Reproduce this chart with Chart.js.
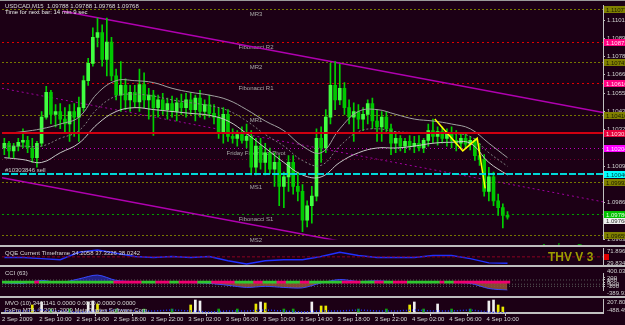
<!DOCTYPE html>
<html>
<head>
<meta charset="utf-8">
<script src="https://cdn.jsdelivr.net/npm/chart.js@4.4.1/dist/chart.umd.min.js"></script>
<style>
  body { margin: 0; background: #1c0015; }
  #wrap { position: relative; width: 625px; height: 325px; overflow: hidden; background: #1c0015; }
  canvas { position: absolute; left: 0; }
  .sep { position: absolute; left: 0; width: 625px; height: 2px; background: #bdbdbd; }
</style>
</head>
<body>
<div id="wrap">
  <canvas id="main" width="625" height="245" style="top:0"></canvas>
  <div class="sep" style="top:0;height:1px;background:#9a9a9a"></div>
  <div class="sep" style="top:245px"></div>
  <canvas id="qqe" width="625" height="17" style="top:248px"></canvas>
  <div class="sep" style="top:265px"></div>
  <canvas id="cci" width="625" height="28" style="top:268px"></canvas>
  <div class="sep" style="top:296px"></div>
  <canvas id="mvo" width="625" height="26" style="top:299px"></canvas>
</div>
<script>
// USDCAD M15, 2-4 Sep 2009 (30 min candles)
const opens = [
  1.10204,1.10234,1.10186,1.10216,1.10240,1.10252,1.10204,1.10143,1.10234,1.10398,
  1.10555,1.10416,1.10434,1.10386,1.10355,1.10434,1.10398,1.10458,1.10628,1.10737,
  1.10901,1.10931,1.10762,1.10871,1.10658,1.10537,1.10598,1.10507,1.10555,1.10495,
  1.10604,1.10507,1.10537,1.10458,1.10507,1.10446,1.10483,1.10434,1.10489,1.10458,
  1.10507,1.10446,1.10519,1.10434,1.10477,1.10422,1.10398,1.10295,1.10416,1.10277,
  1.10265,1.10289,1.10252,1.10277,1.10083,1.10216,1.10113,1.10174,1.10071,1.10113,
  1.09962,1.10022,1.10113,1.09962,1.09931,1.09749,1.09840,1.09901,1.10265,1.10204,
  1.10398,1.10598,1.10507,1.10580,1.10458,1.10398,1.10434,1.10386,1.10416,1.10483,
  1.10374,1.10337,1.10398,1.10325,1.10234,1.10265,1.10216,1.10246,1.10216,1.10234,
  1.10204,1.10252,1.10313,1.10277,1.10307,1.10265,1.10295,1.10252,1.10234,1.10265,
  1.10228,1.10252,1.10156,1.10131,1.09931,1.10022,1.09871,1.09828,1.09780
];
const highs = [
  1.10265,1.10246,1.10234,1.10265,1.10325,1.10277,1.10265,1.10246,1.10434,1.10592,
  1.10568,1.10477,1.10483,1.10458,1.10477,1.10483,1.10525,1.10658,1.10768,1.10961,
  1.11022,1.10980,1.11022,1.10901,1.10701,1.10749,1.10640,1.10598,1.10598,1.10701,
  1.10677,1.10580,1.10568,1.10537,1.10549,1.10519,1.10531,1.10519,1.10543,1.10549,
  1.10555,1.10537,1.10568,1.10507,1.10537,1.10477,1.10458,1.10458,1.10446,1.10325,
  1.10313,1.10337,1.10355,1.10313,1.10265,1.10265,1.10234,1.10204,1.10174,1.10156,
  1.10052,1.10156,1.10156,1.10052,1.09974,1.09871,1.09962,1.10325,1.10337,1.10446,
  1.10737,1.10749,1.10731,1.10616,1.10507,1.10489,1.10477,1.10458,1.10507,1.10519,
  1.10446,1.10434,1.10434,1.10355,1.10307,1.10283,1.10265,1.10283,1.10277,1.10283,
  1.10265,1.10355,1.10386,1.10337,1.10337,1.10325,1.10337,1.10313,1.10295,1.10295,
  1.10277,1.10265,1.10234,1.10162,1.10083,1.10052,1.09913,1.09853,1.09804
];
const lows = [
  1.10162,1.10143,1.10143,1.10186,1.10204,1.10174,1.10113,1.10083,1.10216,1.10386,
  1.10355,1.10337,1.10325,1.10295,1.10246,1.10277,1.10246,1.10434,1.10598,1.10719,
  1.10840,1.10719,1.10658,1.10628,1.10507,1.10434,1.10446,1.10434,1.10458,1.10434,
  1.10458,1.10386,1.10283,1.10398,1.10416,1.10386,1.10398,1.10374,1.10416,1.10398,
  1.10416,1.10374,1.10398,1.10386,1.10398,1.10355,1.10265,1.10234,1.10246,1.10234,
  1.10216,1.10234,1.10204,1.10034,1.10034,1.10071,1.10034,1.10040,1.09962,1.09840,
  1.09828,1.09931,1.09913,1.09871,1.09677,1.09707,1.09731,1.09871,1.10113,1.10174,
  1.10355,1.10446,1.10477,1.10416,1.10355,1.10246,1.10325,1.10313,1.10355,1.10325,
  1.10246,1.10246,1.10295,1.10162,1.10174,1.10186,1.10174,1.10192,1.10174,1.10186,
  1.10174,1.10216,1.10234,1.10222,1.10234,1.10216,1.10204,1.10186,1.10204,1.10204,
  1.10192,1.10125,1.10095,1.09901,1.09871,1.09840,1.09780,1.09701,1.09756
];
const closes = [
  1.10234,1.10186,1.10216,1.10240,1.10252,1.10204,1.10143,1.10234,1.10398,1.10555,
  1.10416,1.10434,1.10386,1.10355,1.10434,1.10398,1.10458,1.10628,1.10737,1.10901,
  1.10931,1.10762,1.10871,1.10658,1.10537,1.10598,1.10507,1.10555,1.10495,1.10604,
  1.10507,1.10537,1.10458,1.10507,1.10446,1.10483,1.10434,1.10489,1.10458,1.10507,
  1.10446,1.10519,1.10434,1.10477,1.10422,1.10398,1.10295,1.10416,1.10277,1.10265,
  1.10289,1.10252,1.10277,1.10083,1.10216,1.10113,1.10174,1.10071,1.10113,1.09962,
  1.10022,1.10113,1.09962,1.09931,1.09749,1.09840,1.09901,1.10265,1.10204,1.10398,
  1.10598,1.10507,1.10580,1.10458,1.10398,1.10434,1.10386,1.10416,1.10483,1.10374,
  1.10337,1.10398,1.10325,1.10234,1.10265,1.10216,1.10246,1.10216,1.10234,1.10204,
  1.10252,1.10313,1.10277,1.10307,1.10265,1.10295,1.10252,1.10234,1.10265,1.10228,
  1.10252,1.10156,1.10131,1.09931,1.10022,1.09871,1.09828,1.09780,1.09768
];

// moving average envelope, one reading every 2 hours
const maSlots = [0,4,8,12,16,20,24,28,32,36,40,44,48,52,56,60,64,68,72,76,80,84,88,92,96,100,104,108];
const maUpper = [1.10295,1.10307,1.10325,1.10355,1.10398,1.10549,1.10628,1.10628,1.10616,1.10580,1.10555,1.10537,1.10507,1.10446,
                 1.10374,1.10313,1.10216,1.10174,1.10325,1.10434,1.10446,1.10416,1.10386,1.10374,1.10355,1.10325,1.10234,1.10143];
const maMid   = [1.10216,1.10216,1.10216,1.10265,1.10313,1.10452,1.10531,1.10543,1.10531,1.10507,1.10489,1.10471,1.10440,1.10374,
                 1.10289,1.10216,1.10125,1.10095,1.10216,1.10307,1.10325,1.10307,1.10301,1.10301,1.10295,1.10277,1.10174,1.10089];
const maLower = [1.10143,1.10131,1.10113,1.10174,1.10234,1.10355,1.10434,1.10458,1.10446,1.10434,1.10422,1.10410,1.10374,1.10295,
                 1.10204,1.10113,1.10034,1.10022,1.10113,1.10174,1.10204,1.10204,1.10216,1.10234,1.10240,1.10234,1.10113,1.10034];

// horizontal levels
const levelNames  = ['MR3','Fibonacci R2','MR2','Fibonacci R1','MR1','','Friday Fibonacci Pivot','','','MS1','Fibonacci S1','MS2'];
const levelPrices = [1.11077,1.10871,1.10743,1.10616,1.10410,1.10301,1.10204,1.10137,1.10040,1.09992,1.09786,1.09659];
const levelKinds  = ['mr','fib','mr','fib','mr','red','piv','dark','order','mr','fibS','mr'];
const priceTicks  = [1.11010,1.10895,1.10780,1.10665,1.10550,1.10435,1.10320,1.10205,1.10090,1.09975,1.09860,1.09745,1.09630];

// channel lines and zigzag
const chanUpperX = [12.6, 128.5], chanUpperY = [1.11065, 1.10428];
const chanLowerX = [-0.5, 128.5], chanLowerY = [1.10016, 1.09307];
const chanMidX   = [-0.5, 128.5], chanMidY   = [1.10580, 1.09865];
const zigSlots  = [92.4, 98.4, 101.5, 103.2];
const zigPrices = [1.10386, 1.10186, 1.10265, 1.09949];

// QQE
const qqeVals = [48.24,48.24,45.61,42.98,61.38,66.64,58.75,50.87,48.24,50.87,48.24,50.87,40.35,32.46,
                 40.35,42.98,42.98,50.87,61.38,53.5,48.24,48.24,48.24,53.5,53.5,45.61,35.09,34.21];

// CCI
const cciVals = [-40,-60,80,-20,150,330,80,20,-10,10,-20,-60,-150,-250,-200,-250,-270,-40,120,30,60,10,-20,0,-20,-60,-300,-380];
const cciRuns = [7,1,16,6,3,3,2,4,3,5,4,2,3,2,3,2,7,4,3,2,2,3,7,1,2,12]; // alternating green / pink, green first

// MVO
const mvoSlots = [6,8,18,19,20,40,41,42,54,55,56,66,68,69,87,88,93,104,105,106,107,10,14,24,30,36,46,50,60,62,76,82,90,96,100];
const mvoVals  = [-90,59,59,108,-41,-90,158,108,-41,59,9,59,-140,-140,-90,59,-41,108,158,-90,-190,
                  -290,-290,-290,-290,-290,-290,-290,-290,-290,-290,-290,-290,-290,-290];
const mvoKinds = ['y','w','w','w','y','y','w','w','y','w','y','w','y','y','y','w','w','w','w','y','y',
                  'g','g','g','g','g','g','g','g','g','g','g','g','g','g'];
const mvoLine  = [-389,-389,-339,-389,-438,-389,-339,-389,-389,-339,-389,-438,-389,-389,-339,-389,-438,-389,-389,-339,-389,-389,-339,-389,-389,-339,-438,-488];

const timeLabels = ['2 Sep 2009','2 Sep 10:00','2 Sep 14:00','2 Sep 18:00','2 Sep 22:00','3 Sep 02:00','3 Sep 06:00',
                    '3 Sep 10:00','3 Sep 14:00','3 Sep 18:00','3 Sep 22:00','4 Sep 02:00','4 Sep 06:00','4 Sep 10:00'];
const timeSlots  = [-0.5,7.5,15.5,23.5,31.5,39.5,47.5,55.5,63.5,71.5,79.5,87.5,95.5,103.5];

const SLOTS = 129;
const FONT = '"Liberation Sans", Arial, sans-serif';
Chart.defaults.font.family = FONT;
Chart.defaults.font.size = 6;
Chart.defaults.color = '#d0d0d0';
Chart.defaults.animation = false;
Chart.defaults.plugins.legend.display = false;
Chart.defaults.plugins.tooltip.enabled = false;

const pts = (xs, ys) => xs.map((x, i) => ({x: x, y: ys[i]}));
const xHidden = {type: 'linear', min: -0.5, max: SLOTS - 0.5, offset: false, display: false};

function rightAxis(min, max, ticks, fmt) {
  return {
    position: 'right', min: min, max: max,
    afterFit: s => { s.width = 22; },
    afterBuildTicks: s => { s.ticks = ticks.map(v => ({value: v})); },
    grid: {display: true, drawOnChartArea: false, drawTicks: true, tickLength: 2, color: '#c0c0c0'},
    border: {display: true, color: '#c0c0c0'},
    ticks: {display: ticks.length > 0, autoSkip: false, padding: 2, color: '#d0d0d0', font: {size: 6}, callback: fmt}
  };
}

function txt(ctx, s, x, y, color, font, align) {
  ctx.font = font || '6px ' + FONT;
  ctx.fillStyle = color;
  ctx.textAlign = align || 'left';
  ctx.textBaseline = 'alphabetic';
  ctx.fillText(s, x, y);
}

const levelStyle = {
  mr:    {color: '#767600', dash: [2, 2], width: 1, tag: '#808000', tagText: '#1a1a00'},
  fib:   {color: '#e00000', dash: [2, 3], width: 1, tag: '#ff0080', tagText: '#ffe0f0'},
  red:   {color: '#d00010', dash: [],     width: 2, tag: '#e8003c', tagText: '#ffe0e0'},
  piv:   {color: '#c000c0', dash: [1, 3], width: 1, tag: '#ff00ff', tagText: '#ffe0ff'},
  dark:  {color: '#700030', dash: [1, 3], width: 1, tag: null},
  order: {color: '#00d8d8', dash: [7, 2], width: 2, tag: '#00ffff', tagText: '#004040'},
  fibS:  {color: '#00a000', dash: [2, 3], width: 1, tag: '#00c000', tagText: '#e0ffe0'}
};

const levelsBehind = {
  id: 'levelsBehind',
  beforeDatasetsDraw(chart) {
    const {ctx, chartArea: a, scales: {y}} = chart;
    ctx.save();
    levelPrices.forEach((p, i) => {
      const st = levelStyle[levelKinds[i]];
      const py = Math.round(y.getPixelForValue(p)) + 0.5;
      if (levelKinds[i] !== 'red' && levelKinds[i] !== 'order') {
        ctx.strokeStyle = st.color; ctx.lineWidth = st.width; ctx.setLineDash(st.dash);
        ctx.beginPath(); ctx.moveTo(a.left, py); ctx.lineTo(a.right, py); ctx.stroke();
      }
      if (levelNames[i]) txt(ctx, levelNames[i], 256, py + 6, '#a8a8a8', null, 'center');
    });
    ctx.restore();
  }
};

const levelsFront = {
  id: 'levelsFront',
  afterDatasetsDraw(chart) {
    const {ctx, chartArea: a, scales: {y}} = chart;
    ctx.save();
    levelPrices.forEach((p, i) => {
      const k = levelKinds[i];
      if (k !== 'red' && k !== 'order') return;
      const st = levelStyle[k];
      const py = Math.round(y.getPixelForValue(p));
      ctx.strokeStyle = st.color; ctx.lineWidth = st.width; ctx.setLineDash(st.dash);
      ctx.beginPath(); ctx.moveTo(a.left, py); ctx.lineTo(a.right, py); ctx.stroke();
      if (k === 'order') txt(ctx, '#10303846 sell', 5, py - 2, '#c8c8c8');
    });
    ctx.restore();
  },
  afterDraw(chart) {
    const {ctx, chartArea: a, scales: {y}} = chart;
    ctx.save();
    levelPrices.forEach((p, i) => {
      const st = levelStyle[levelKinds[i]];
      if (!st.tag) return;
      const py = Math.round(y.getPixelForValue(p));
      ctx.fillStyle = st.tag;
      ctx.fillRect(a.right + 1, py - 3, 22, 7);
      txt(ctx, p.toFixed(5), a.right + 3, py + 3, st.tagText);
    });
    const last = closes[closes.length - 1];
    const cy = Math.round(y.getPixelForValue(last));
    ctx.fillStyle = '#f0f0f0';
    ctx.fillRect(a.right + 1, cy + 1, 22, 6);
    txt(ctx, last.toFixed(5), a.right + 3, cy + 6, '#303030');
    txt(ctx, 'USDCAD,M15  1.09788 1.09788 1.09768 1.09768', 5, 8, '#d8d8d8');
    txt(ctx, 'Time for next bar: 14 min 9 sec', 5, 14, '#e8e8e8');
    txt(ctx, 'Analyze Day', 540, 250, '#00a000', 'italic bold 9px ' + FONT);
    ctx.restore();
  }
};

const slots = opens.map((_, i) => i);
const bull = slots.map(i => closes[i] >= opens[i]);

new Chart(document.getElementById('main'), {
  type: 'bar',
  data: {
    datasets: [
      {type: 'line', data: pts(chanMidX, chanMidY), borderColor: '#a000a0',
       borderWidth: 1, borderDash: [2, 3], pointRadius: 0, order: 6},
      {type: 'line', data: pts(chanUpperX, chanUpperY), borderColor: '#b000b0', borderWidth: 1.5, pointRadius: 0, order: 5},
      {type: 'line', data: pts(chanLowerX, chanLowerY), borderColor: '#b000b0', borderWidth: 1.5, pointRadius: 0, order: 5},
      {type: 'bar', data: slots.map(i => ({x: i, y: [lows[i], highs[i]]})), backgroundColor: '#00d000',
       barThickness: 1, grouped: false, order: 4},
      {type: 'bar', data: slots.map(i => ({x: i, y: [opens[i], closes[i]]})),
       backgroundColor: slots.map(i => bull[i] ? '#40ff40' : '#00c800'), borderWidth: 0,
       barThickness: 3, minBarLength: 1, grouped: false, order: 3},
      {type: 'line', data: pts(maSlots, maUpper), borderColor: '#a0a0a0', borderWidth: 1, pointRadius: 0, tension: 0.4, order: 2},
      {type: 'line', data: pts(maSlots, maMid), borderColor: '#808080', borderWidth: 1, borderDash: [2, 2], pointRadius: 0, tension: 0.4, order: 2},
      {type: 'line', data: pts(maSlots, maLower), borderColor: '#c8c8c8', borderWidth: 1, pointRadius: 0, tension: 0.4, order: 2},
      {type: 'line', data: pts(zigSlots, zigPrices), borderColor: '#ffff00', borderWidth: 1.5, pointRadius: 0, order: 1}
    ]
  },
  options: {
    responsive: false,
    layout: {padding: {left: 2, top: 2, right: 0, bottom: 0}},
    scales: {
      x: xHidden,
      y: rightAxis(1.096283, 1.111009, priceTicks, v => v.toFixed(5))
    }
  },
  plugins: [levelsBehind, levelsFront]
});

// QQE pane
new Chart(document.getElementById('qqe'), {
  type: 'line',
  data: {
    datasets: [
      {data: [{x: -0.5, y: 50}, {x: SLOTS - 0.5, y: 50}], borderColor: '#8a0020', borderWidth: 1, borderDash: [3, 2], pointRadius: 0},
      {data: pts(maSlots, qqeVals), borderColor: '#2030ff', borderWidth: 1.5, pointRadius: 0}
    ]
  },
  options: {
    responsive: false,
    layout: {padding: {left: 2, top: 0, right: 0, bottom: 0}},
    scales: {x: xHidden, y: rightAxis(29.8344, 71.8963, [], null)}
  },
  plugins: [{
    id: 'qqeText',
    afterDraw(chart) {
      const {ctx, chartArea: a} = chart;
      txt(ctx, 'QQE Current Timeframe 34.2058 37.3326 38.0242', 5, 7, '#d8d8d8');
      txt(ctx, 'THV V 3', 548, 13, '#9c9c00', 'bold 12px ' + FONT);
      txt(ctx, '71.8963', a.right + 4, 5, '#d0d0d0');
      txt(ctx, '29.8344', a.right + 4, 16.5, '#d0d0d0');
      ctx.fillStyle = '#e00000';
      ctx.fillRect(a.right + 1, 6, 5, 6);
    }
  }]
});

// CCI pane
const cciTrend = [];
cciRuns.forEach((n, r) => { for (let k = 0; k < n; k++) cciTrend.push(r % 2 === 0 ? '#30c830' : '#f00070'); });
new Chart(document.getElementById('cci'), {
  type: 'bar',
  data: {
    datasets: [
      {type: 'line', data: [{x: -0.5, y: 100}, {x: SLOTS - 0.5, y: 100}], borderColor: '#585858', borderWidth: 1, borderDash: [1, 2], pointRadius: 0, order: 3},
      {type: 'line', data: [{x: -0.5, y: -100}, {x: SLOTS - 0.5, y: -100}], borderColor: '#585858', borderWidth: 1, borderDash: [1, 2], pointRadius: 0, order: 3},
      {type: 'line', data: [{x: -0.5, y: -200}, {x: SLOTS - 0.5, y: -200}], borderColor: '#585858', borderWidth: 1, borderDash: [1, 2], pointRadius: 0, order: 3},
      {type: 'line', data: pts(maSlots, cciVals), borderColor: '#3848ff', borderWidth: 1, pointRadius: 0, tension: 0.3,
       fill: {target: 'origin', above: 'rgba(40,60,230,0.55)', below: 'rgba(150,85,55,0.85)'}, order: 2},
      {type: 'bar', data: cciTrend.map((c, i) => ({x: i, y: [-50, 45]})), backgroundColor: cciTrend,
       barPercentage: 1, categoryPercentage: 1, grouped: false, order: 1}
    ]
  },
  options: {
    responsive: false,
    layout: {padding: {left: 2, top: 0, right: 0, bottom: 0}},
    scales: {x: xHidden, y: rightAxis(-389.914, 400.0314, [200, 100, 0, -100, -200], v => String(v))}
  },
  plugins: [{
    id: 'cciText',
    afterDraw(chart) {
      const {ctx, chartArea: a} = chart;
      txt(ctx, 'CCI (63)', 5, 7, '#d8d8d8');
      txt(ctx, '400.0314', a.right + 4, 5, '#d0d0d0');
      txt(ctx, '-389.914', a.right + 4, 27, '#d0d0d0');
    }
  }]
});

// MVO pane with the time axis
const mvoColor = {w: '#f0f0f0', y: '#e8e800', g: '#10a010'};
new Chart(document.getElementById('mvo'), {
  type: 'bar',
  data: {
    datasets: [
      {type: 'bar', data: mvoSlots.map((s, i) => ({x: s, y: [-440, mvoVals[i]]})),
       backgroundColor: mvoKinds.map(k => mvoColor[k]), barThickness: 2, grouped: false, order: 2},
      {type: 'line', data: pts(maSlots, mvoLine), borderColor: '#2030ff', borderWidth: 1.5, borderDash: [1, 2], pointRadius: 0, order: 1}
    ]
  },
  options: {
    responsive: false,
    layout: {padding: {left: 2, top: 0, right: 0, bottom: 0}},
    scales: {
      x: {
        type: 'linear', min: -0.5, max: SLOTS - 0.5, offset: false, position: 'bottom',
        afterBuildTicks: s => { s.ticks = timeSlots.map(v => ({value: v})); },
        afterFit: s => { s.height = 12; },
        ticks: {autoSkip: false, maxRotation: 0, align: 'start', padding: 0, color: '#d8d8d8', font: {size: 6},
                callback: (v, i) => timeLabels[i]},
        grid: {display: true, drawOnChartArea: false, tickLength: 3, color: '#c0c0c0'},
        border: {display: true, color: '#c0c0c0', width: 2}
      },
      y: rightAxis(-488.491, 207.8099, [], null)
    }
  },
  plugins: [{
    id: 'mvoText',
    afterDraw(chart) {
      const {ctx, chartArea: a} = chart;
      txt(ctx, 'MVO (10) 3441141 0.0000 0.0000 0.0000 0.0000', 5, 6, '#d8d8d8');
      txt(ctx, 'FxPro MT4, \u00a9 2001-2009 MetaQuotes Software Corp.', 5, 13, '#d8d8d8');
      txt(ctx, '207.8099', a.right + 4, 5, '#d0d0d0');
      txt(ctx, '-488.491', a.right + 4, 13, '#d0d0d0');
    }
  }]
});
</script>
</body>
</html>
